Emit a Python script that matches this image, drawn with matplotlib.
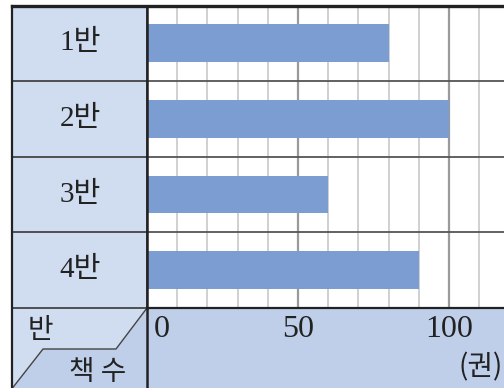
import matplotlib
matplotlib.use("Agg")
import matplotlib.pyplot as plt
from matplotlib.patches import Rectangle, Polygon

plt.rcParams['font.family'] = ['Liberation Serif', 'Noto Sans CJK KR', 'DejaVu Sans']

# data
classes = ["1반", "2반", "3반", "4반"]
books = [80, 100, 60, 90]
tick_values = [0, 50, 100]
tick_labels = ["0", "50", "100"]
row_header = "반"
col_header = "책 수"
unit_label = "(권)"

W, H = 504, 388
fig = plt.figure(figsize=(W / 100, H / 100), dpi=100)

LIGHT = "#d0ddf0"
MID = "#bfcfe9"
BAR = "#7b9dd1"
TEXT = "#222222"

# table frame drawn in pixel coordinates
bg = fig.add_axes([0, 0, 1, 1])
bg.set_xlim(0, W)
bg.set_ylim(H, 0)
bg.axis("off")

left, split, top, plot_bottom = 11.5, 147, 5.5, 308
# left header column
bg.add_patch(Rectangle((left, top), split - left, plot_bottom - top, facecolor=LIGHT, edgecolor="none", zorder=0))
# bottom scale row
bg.add_patch(Rectangle((split, plot_bottom), W - split, H - plot_bottom, facecolor=MID, edgecolor="none", zorder=0))
# diagonal header cell
bg.add_patch(Rectangle((left, plot_bottom), split - left, H - plot_bottom, facecolor=LIGHT, edgecolor="none", zorder=0))
zig = [(split, plot_bottom), (116, 349), (43, 349), (12.5, H), (split, H)]
bg.add_patch(Polygon(zig, closed=True, facecolor=MID, edgecolor="none", zorder=1))
bg.plot([p[0] for p in zig[:4]], [p[1] for p in zig[:4]], color="#444444", lw=1.0, zorder=2)

bg.text(40, 330, row_header, ha="center", va="center", fontsize=20,
        family=['Noto Sans CJK KR'], color=TEXT)
bg.text(98, 372, col_header, ha="center", va="center", fontsize=20,
        family=['Noto Sans CJK KR'], color=TEXT)
bg.text(W - 1, 367, unit_label, ha="right", va="center", fontsize=20,
        family=['Noto Sans CJK KR'], color=TEXT)

# bar area
ax = fig.add_axes([split / W, (H - plot_bottom) / H, (W - split) / W, (plot_bottom - top) / H])
ax.set_facecolor("white")
xmax = (W - split) / 3.02
ax.set_xlim(0, xmax)
ax.set_ylim(len(classes) - 0.5, -0.5)

for v in range(10, int(xmax) + 1, 10):
    strong = v % 50 == 0
    ax.axvline(v, color="#9a9a9a" if strong else "#c4c4c4", lw=1.6 if strong else 1.1, zorder=1)

ypos = list(range(len(classes)))
ax.barh(ypos, books, height=0.5, color=BAR, zorder=2)
for y in range(1, len(classes)):
    ax.axhline(y - 0.5, color="#555555", lw=1.3, zorder=3)

ax.set_yticks([])
ax.set_xticks(tick_values[1:])
ax.set_xticklabels(tick_labels[1:], fontsize=23, color=TEXT)
ax.tick_params(axis="x", length=0, pad=5)
# the zero label sits just inside the left edge of the scale row
ax.annotate(tick_labels[0], xy=(tick_values[0], 0), xycoords=("data", "axes fraction"),
            xytext=(5, -5), textcoords="offset points", ha="left", va="top",
            fontsize=23, color=TEXT, annotation_clip=False)
for s in ax.spines.values():
    s.set_visible(False)

# class labels in the header column
for i, name in enumerate(classes):
    yc = top + (i + 0.5) * (plot_bottom - top) / len(classes)
    bg.text((left + split) / 2 + 1, yc, name, ha="center", va="center", fontsize=21, color=TEXT)

# grid lines of the table
for i in range(1, len(classes) + 1):
    yl = top + i * (plot_bottom - top) / len(classes)
    bg.plot([left, split], [yl, yl], color="#444444", lw=1.3, zorder=3)
bg.plot([left, left], [top, H], color="#222222", lw=1.6, zorder=5)
bg.plot([split, split], [top, H], color="#222222", lw=1.8, zorder=5)

# keep frame lines above the bar axes
fg = fig.add_axes([0, 0, 1, 1], facecolor="none")
fg.set_xlim(0, W)
fg.set_ylim(H, 0)
fg.axis("off")
fg.plot([left, W], [top, top], color="#222222", lw=2.4)
fg.plot([split, split], [top, plot_bottom], color="#222222", lw=1.8)
fg.plot([split, W], [plot_bottom, plot_bottom], color="#222222", lw=1.6)

fig.savefig("out.png", dpi=100)
